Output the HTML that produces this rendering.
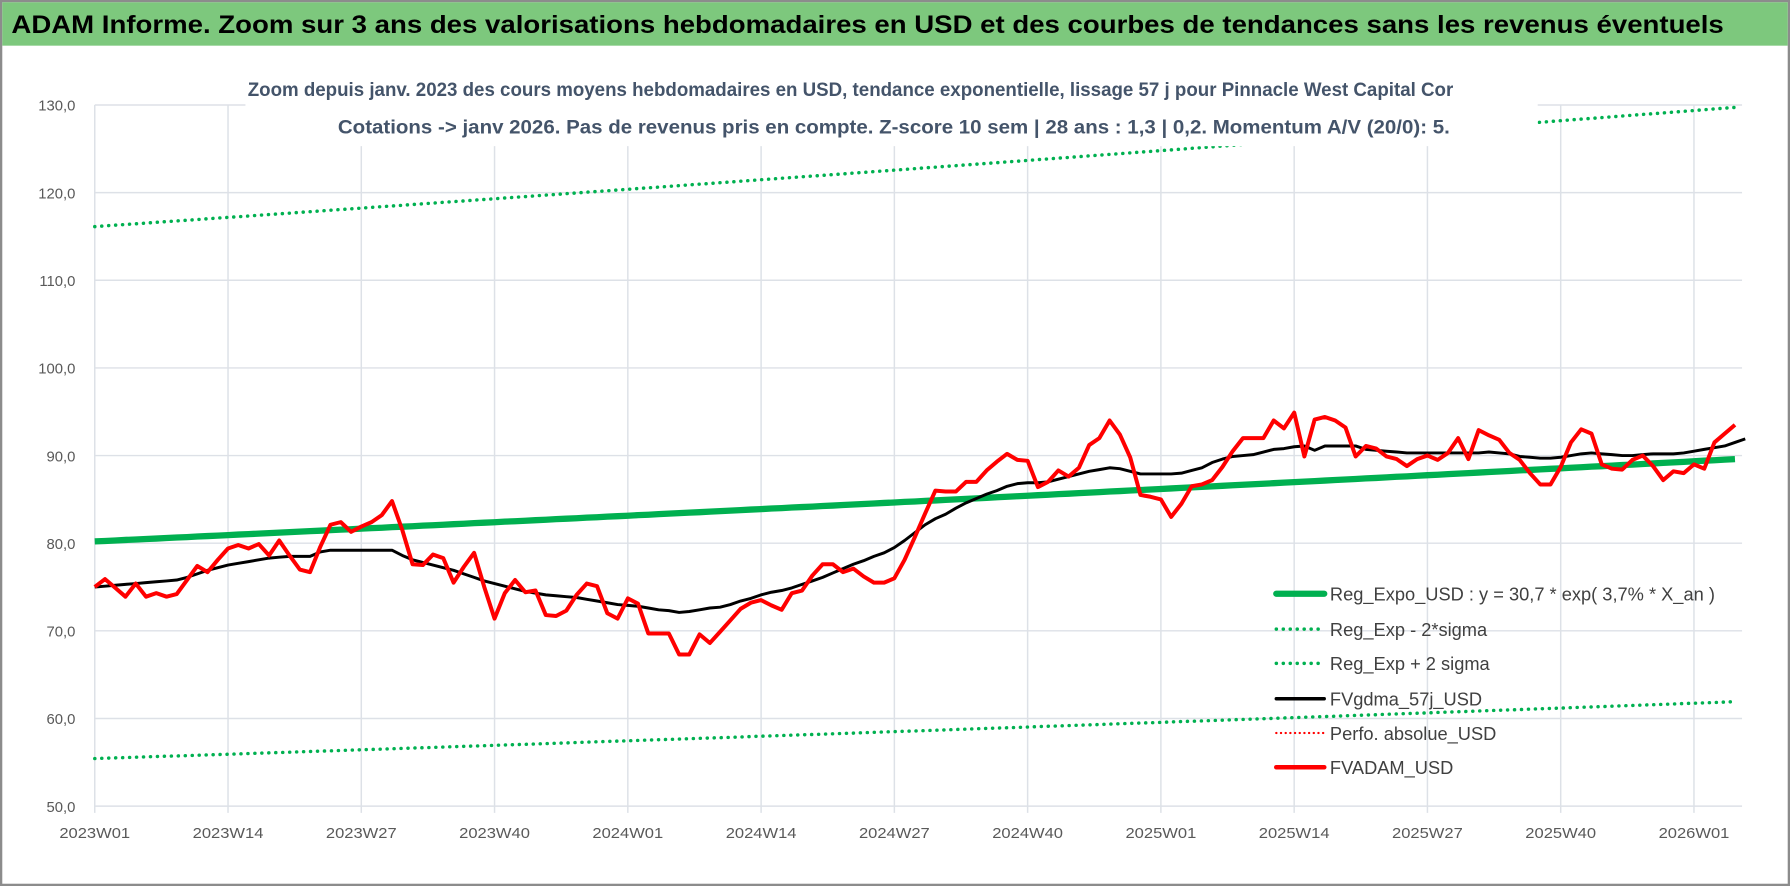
<!DOCTYPE html>
<html><head><meta charset="utf-8">
<style>
html,body{margin:0;padding:0;background:#fff;}
svg{display:block;}
text{font-family:"Liberation Sans",sans-serif;}
</style></head>
<body>
<svg id="chart" width="1790" height="886" viewBox="0 0 1568 776" preserveAspectRatio="none" xmlns="http://www.w3.org/2000/svg">
  <rect x="0" y="0" width="1568" height="776" fill="#fff"/>
  <rect x="1" y="1" width="1566" height="774" fill="none" stroke="#8c8c8c" stroke-width="2"/>
  <rect x="2" y="2" width="1564" height="38" fill="#7dc87d"/>
  <text x="10" y="29" font-size="22" font-weight="bold" fill="#000" textLength="1500" lengthAdjust="spacingAndGlyphs">ADAM Informe. Zoom sur 3 ans des valorisations hebdomadaires en USD et des courbes de tendances sans les revenus éventuels</text>
  <g id="grid"></g>
  <g id="series"></g>
  <rect x="215" y="50" width="1132" height="78" fill="#fff"/>
  <text x="745" y="84" font-size="17" font-weight="bold" fill="#44546a" text-anchor="middle" textLength="1056" lengthAdjust="spacingAndGlyphs">Zoom depuis janv. 2023 des cours moyens hebdomadaires en USD, tendance exponentielle, lissage 57 j pour Pinnacle West Capital Cor</text>
  <text x="783" y="117" font-size="17" font-weight="bold" fill="#44546a" text-anchor="middle" textLength="974" lengthAdjust="spacingAndGlyphs">Cotations -&gt; janv 2026. Pas de revenus pris en compte. Z-score 10 sem | 28 ans : 1,3 | 0,2. Momentum A/V (20/0): 5.</text>
  <g id="axes"></g>
  <g id="legend"></g>
</svg>
<script>
const redValues = [75.0,75.9,74.9,73.9,75.4,73.9,74.3,73.9,74.2,75.8,77.4,76.7,78.1,79.4,79.8,79.4,79.9,78.6,80.3,78.6,77.0,76.7,79.6,82.1,82.4,81.3,81.9,82.4,83.2,84.8,81.5,77.6,77.5,78.7,78.3,75.5,77.3,78.9,75.0,71.4,74.3,75.8,74.4,74.6,71.8,71.7,72.3,74.1,75.4,75.1,72.0,71.4,73.7,73.1,69.7,69.7,69.7,67.3,67.3,69.6,68.6,69.9,71.2,72.5,73.2,73.5,72.9,72.4,74.3,74.6,76.3,77.6,77.6,76.7,77.1,76.2,75.5,75.5,76.0,78.1,80.7,83.4,86.0,85.9,85.9,87.0,87.0,88.3,89.3,90.2,89.5,89.4,86.4,87.0,88.3,87.6,88.6,91.2,92.0,94.0,92.4,89.8,85.5,85.3,85.0,83.0,84.5,86.5,86.7,87.2,88.7,90.5,92.0,92.0,92.0,94.0,93.1,94.9,89.9,94.1,94.4,94.0,93.2,89.9,91.1,90.8,89.9,89.6,88.8,89.6,90.0,89.5,90.3,92.0,89.6,92.9,92.3,91.8,90.3,89.5,88.0,86.7,86.7,88.7,91.5,93.0,92.5,89.0,88.5,88.4,89.5,90.0,88.8,87.2,88.2,88.0,89.0,88.5,91.5,92.5,93.5];
const blackValues = [75.0,75.1,75.2,75.3,75.4,75.5,75.6,75.7,75.8,76.1,76.5,76.9,77.2,77.5,77.7,77.9,78.1,78.3,78.4,78.5,78.5,78.5,79.0,79.2,79.2,79.2,79.2,79.2,79.2,79.2,78.6,78.1,77.8,77.5,77.2,76.9,76.5,76.1,75.7,75.4,75.1,74.8,74.5,74.3,74.1,74.0,73.9,73.8,73.6,73.4,73.2,73.0,72.9,72.8,72.6,72.4,72.3,72.1,72.2,72.4,72.6,72.7,73.0,73.4,73.7,74.1,74.4,74.6,74.9,75.3,75.7,76.1,76.6,77.1,77.6,78.0,78.5,78.9,79.5,80.3,81.2,82.1,82.8,83.3,84.0,84.6,85.1,85.6,86.0,86.5,86.8,86.9,86.9,87.0,87.3,87.6,87.9,88.2,88.4,88.6,88.5,88.2,87.9,87.9,87.9,87.9,88.0,88.3,88.6,89.2,89.6,89.9,90.0,90.1,90.4,90.7,90.8,91.0,91.1,90.6,91.1,91.1,91.1,91.1,90.7,90.6,90.5,90.4,90.3,90.3,90.3,90.3,90.3,90.3,90.3,90.3,90.4,90.3,90.2,89.9,89.8,89.7,89.7,89.8,90.0,90.2,90.3,90.2,90.1,90.0,90.0,90.1,90.2,90.2,90.2,90.3,90.5,90.7,90.9,91.1,91.5,91.9];
const trendStart = [80.2];
const trendGrowthPerYear = [0.036];
const bandFactors = [0.691, 1.448];
const yTicks = [50,60,70,80,90,100,110,120,130];
const yTickLabels = ["50,0","60,0","70,0","80,0","90,0","100,0","110,0","120,0","130,0"];
const xTickIndex = [0,13,26,39,52,65,78,91,104,117,130,143,156];
const xTickLabels = ["2023W01","2023W14","2023W27","2023W40","2024W01","2024W14","2024W27","2024W40","2025W01","2025W14","2025W27","2025W40","2026W01"];
const legendLabels = ["Reg_Expo_USD : y = 30,7 * exp( 3,7% *  X_an )","Reg_Exp - 2*sigma","Reg_Exp + 2 sigma","FVgdma_57j_USD","Perfo. absolue_USD","FVADAM_USD"];

const NS = "http://www.w3.org/2000/svg";
const X0 = 83, DX = 8.98, PLOT_R = 1526;
const Y0 = 706, YPER = 7.675;
function xs(i){ return X0 + i*DX; }
function ys(v){ return Y0 - (v-50)*YPER; }
function mk(tag, attrs, parent){ const e=document.createElementNS(NS,tag); for(const k in attrs) e.setAttribute(k,attrs[k]); parent.appendChild(e); return e; }

const grid = document.getElementById('grid');
yTicks.forEach((v)=>{
  const l = mk('line',{x1:X0,x2:PLOT_R,y1:ys(v),y2:ys(v),stroke:'#dde1e7','stroke-width':1.3},grid);
  
  
});
xTickIndex.forEach((i)=>{
  const l = mk('line',{x1:xs(i),x2:xs(i),y1:ys(130),y2:ys(50)+6,stroke:'#dde1e7','stroke-width':1.3},grid);
  
  
});

const axes = document.getElementById('axes');
yTicks.forEach((v,k)=>{
  const t = mk('text',{x:66,y:ys(v)+5,'font-size':13,fill:'#595959','text-anchor':'end'},axes);
  t.textContent = yTickLabels[k];
  
  
});
xTickIndex.forEach((i,k)=>{
  const t = mk('text',{x:xs(i),y:734,'font-size':13,fill:'#595959','text-anchor':'middle',textLength:62,lengthAdjust:'spacingAndGlyphs'},axes);
  t.textContent = xTickLabels[k];
  
  
});

const series = document.getElementById('series');
const n = redValues.length;
const trend = [];
for(let i=0;i<n;i++){ trend.push(trendStart[0]*Math.exp(trendGrowthPerYear[0]*i/52)); }
function pts(arr){ return arr.map((v,i)=>xs(i).toFixed(1)+','+ys(v).toFixed(1)).join(' '); }

const lower = mk('polyline',{points:pts(trend.map(v=>v*bandFactors[0])),fill:'none',stroke:'#00b050','stroke-width':3,'stroke-dasharray':'0.1 6','stroke-linecap':'round'},series);


const upper = mk('polyline',{points:pts(trend.map(v=>v*bandFactors[1])),fill:'none',stroke:'#00b050','stroke-width':3,'stroke-dasharray':'0.1 6','stroke-linecap':'round'},series);


const tl = mk('polyline',{points:pts(trend),fill:'none',stroke:'#00b050','stroke-width':5.5},series);


const bl = mk('polyline',{points:pts(blackValues),fill:'none',stroke:'#000','stroke-width':2.6,'stroke-linejoin':'round'},series);


const rl = mk('polyline',{points:pts(redValues),fill:'none',stroke:'#ff0000','stroke-width':3.5,'stroke-linejoin':'round'},series);



const legend = document.getElementById('legend');
const legendStyles = [
  {stroke:'#00b050',w:5.5,dash:null},
  {stroke:'#00b050',w:3,dash:'0.1 6'},
  {stroke:'#00b050',w:3,dash:'0.1 6'},
  {stroke:'#000',w:3,dash:null},
  {stroke:'#ff0000',w:2,dash:'0.1 4'},
  {stroke:'#ff0000',w:4,dash:null}
];
const legendY = [520,551,581,612,642,672];
legendLabels.forEach((lab,k)=>{
  const s = legendStyles[k];
  const a = {x1:1118,x2:1160,y1:legendY[k],y2:legendY[k],stroke:s.stroke,'stroke-width':s.w,'stroke-linecap':'round'};
  if(s.dash) a['stroke-dasharray']=s.dash;
  const l = mk('line',a,legend);
  
  
  const t = mk('text',{x:1165,y:legendY[k]+6,'font-size':16,fill:'#404040'},legend);
  t.textContent = lab;
  
  
});
</script>
</body></html>
